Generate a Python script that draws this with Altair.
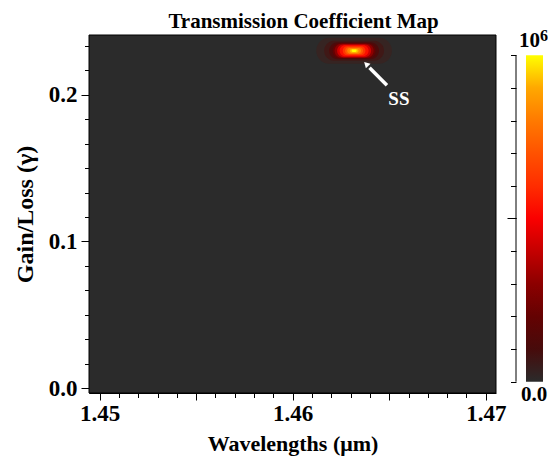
import altair as alt
import pandas as pd

FONT = "Liberation Serif"

# ---- axes ----
x_domain = [1.44945, 1.47053]
y_domain = [-0.0034, 0.2409]
x_major = [1.45, 1.455, 1.46, 1.465, 1.47]
x_minor = [1.450, 1.451, 1.452, 1.453, 1.454, 1.455, 1.456, 1.457, 1.458, 1.459,
           1.460, 1.461, 1.462, 1.463, 1.464, 1.465, 1.466, 1.467, 1.468, 1.469, 1.470]
y_major = [0.0, 0.1, 0.2]
y_minor = [0.0167, 0.0333, 0.05, 0.0667, 0.0833, 0.1167, 0.1333, 0.15, 0.1667,
           0.1833, 0.2167, 0.2333]

# ---- colour map (dark grey -> red -> yellow), 0 .. 1 (x 10^6) ----
cmap_stops = [0.0, 0.1, 0.2, 0.3, 0.4, 0.5, 0.6, 0.7, 0.8, 0.9, 1.0]
cmap_colors = ['#2b2b2b', '#470b0b', '#640202', '#8c0000', '#c40000', '#fa0000',
               '#ff2d00', '#ff5200', '#ff7a00', '#ffa800', '#ffff00']
cbar_ticks = [0.0, 0.1, 0.2, 0.3, 0.4, 0.5, 0.6, 0.7, 0.8, 0.9, 1.0]
cbar_bottom_label = '0.0'
cbar_top_base = '10'
cbar_top_exp = '6'

# ---- the bright spot (SS), as contour levels ----
spot_x = 1.46318
spot_y = 0.2301
spot_level = [0.03, 0.07, 0.12, 0.2, 0.3, 0.42, 0.52, 0.62, 0.72, 0.82, 0.92, 1.0]
spot_half_w = [0.00196, 0.00155, 0.00129, 0.00111, 0.00101, 0.00088, 0.00075,
               0.00059, 0.00047, 0.00036, 0.00023, 0.00013]
spot_half_h = [0.00886, 0.00682, 0.0058, 0.00511, 0.00477, 0.0043, 0.00375,
               0.00307, 0.00239, 0.00191, 0.0013, 0.00082]

# ---- arrow + label ----
arrow_tail = (1.46488, 0.20662)
arrow_base = (1.46398, 0.21862)
arrow_tip = (1.46370, 0.22251)
ss_pos = (1.46550, 0.19707)

bg_df = pd.DataFrame({'x0': [x_domain[0]], 'x1': [x_domain[1]],
                      'y0': [y_domain[0]], 'y1': [y_domain[1]]})
spot_df = pd.DataFrame({
    'v': spot_level,
    'x0': [spot_x - w for w in spot_half_w],
    'x1': [spot_x + w for w in spot_half_w],
    'y0': [spot_y - h for h in spot_half_h],
    'y1': [spot_y + h for h in spot_half_h],
})
shaft_df = pd.DataFrame({'x': [arrow_tail[0]], 'x2': [arrow_base[0]],
                         'y': [arrow_tail[1]], 'y2': [arrow_base[1]]})
tip_df = pd.DataFrame({'x': [arrow_tip[0]], 'y': [arrow_tip[1]]})
ss_df = pd.DataFrame({'x': [ss_pos[0]], 'y': [ss_pos[1]], 't': ['SS']})

xs = alt.Scale(domain=x_domain, nice=False, zero=False)
ys = alt.Scale(domain=y_domain, nice=False, zero=False)

lab = dict(labelFont=FONT, labelFontWeight='bold', labelFontSize=23, labelColor='black',
           titleFont=FONT, titleFontWeight='bold', titleColor='black',
           tickColor='black', domainColor='black', grid=False, labelOverlap=False,
           labelFlush=False)

x_axis_major = alt.Axis(values=x_major, tickSize=7, labelPadding=2, titlePadding=8,
                        orient='bottom', titleFontSize=22,
                        labelExpr="abs(datum.value*100 - round(datum.value*100)) < 1e-6 ? format(datum.value, '.2f') : ''",
                        title='Wavelengths (μm)', **lab)
y_axis_major = alt.Axis(values=y_major, tickSize=8, labelPadding=4, titlePadding=11,
                        orient='left', format='.1f', title='Gain/Loss (γ)',
                        titleFontSize=24, **lab)
x_axis_minor = alt.Axis(values=x_minor, tickSize=4.5, labels=False, domain=False,
                        orient='bottom', title=None, grid=False, tickColor='black')
y_axis_minor = alt.Axis(values=y_minor, tickSize=4.5, labels=False, domain=False,
                        orient='left', title=None, grid=False, tickColor='black')

cscale = alt.Scale(domain=cmap_stops, range=cmap_colors)

bg = alt.Chart(bg_df).mark_rect(fill='#2b2b2b', stroke='black', strokeWidth=1).encode(
    x=alt.X('x0:Q', scale=xs, axis=x_axis_major),
    x2='x1:Q',
    y=alt.Y('y0:Q', scale=ys, axis=y_axis_major),
    y2='y1:Q',
)

spot = alt.Chart(spot_df).mark_rect(cornerRadius=60).encode(
    x=alt.X('x0:Q', scale=xs, axis=None),
    x2='x1:Q',
    y=alt.Y('y0:Q', scale=ys, axis=None),
    y2='y1:Q',
    color=alt.Color('v:Q', scale=cscale, legend=None),
)

shaft = alt.Chart(shaft_df).mark_rule(color='white', strokeWidth=3.5).encode(
    x=alt.X('x:Q', scale=xs, axis=x_axis_minor),
    x2='x2:Q',
    y=alt.Y('y:Q', scale=ys, axis=y_axis_minor),
    y2='y2:Q',
)

head = alt.Chart(tip_df).mark_point(
    shape='M0,0 L-0.6,1.05 L0.6,1.05 Z', filled=True, color='white', opacity=1,
    size=120, angle=315, strokeWidth=0).encode(
    x=alt.X('x:Q', scale=xs, axis=None),
    y=alt.Y('y:Q', scale=ys, axis=None),
)

ss = alt.Chart(ss_df).mark_text(color='white', font=FONT, fontWeight='bold', fontSize=19,
                                align='center', baseline='middle').encode(
    x=alt.X('x:Q', scale=xs, axis=None),
    y=alt.Y('y:Q', scale=ys, axis=None),
    text='t:N',
)

main = alt.layer(bg, spot, shaft, head, ss).resolve_axis(x='independent', y='independent')

# ---- colour bar (own y scale, drawn right of the plot) ----
grad = alt.Gradient(gradient='linear', x1=0, x2=0, y1=1, y2=0,
                    stops=[alt.GradientStop(offset=s, color=c) for s, c in zip(cmap_stops, cmap_colors)])
cb_scale = alt.Scale(domain=[-0.0346, 1.0621], nice=False, zero=False)
cb_df = pd.DataFrame({'lo': [0.0], 'hi': [1.0]})
cb_bot_df = pd.DataFrame({'y': [0.0], 't': [cbar_bottom_label]})
cb_top_df = pd.DataFrame({'y': [1.0], 't': [cbar_top_base]})
cb_exp_df = pd.DataFrame({'y': [1.0], 't': [cbar_top_exp]})

cb_bar = alt.Chart(cb_df).mark_rect(color=grad).encode(
    x=alt.value(437), x2=alt.value(454),
    y=alt.Y('lo:Q', scale=cb_scale,
            axis=alt.Axis(values=cbar_ticks, labels=False, domain=False, tickSize=5.5,
                          orient='left', offset=-427, title=None, grid=False,
                          tickColor='black')),
    y2='hi:Q',
)
cb_line = alt.Chart(cb_df).mark_rule(color='black', strokeWidth=1).encode(
    x=alt.value(427),
    y=alt.Y('lo:Q', scale=cb_scale,
            axis=alt.Axis(values=[0.5], labels=False, domain=False, tickSize=9,
                          orient='left', offset=-427, title=None, grid=False,
                          tickColor='black')),
    y2='hi:Q',
)
cb_top = alt.Chart(cb_top_df).mark_text(
    font=FONT, fontWeight='bold', fontSize=21, baseline='alphabetic', align='right',
    dy=-8, color='black').encode(
    x=alt.value(451), y=alt.Y('y:Q', scale=cb_scale, axis=None), text='t:N')
cb_exp = alt.Chart(cb_exp_df).mark_text(
    font=FONT, fontWeight='bold', fontSize=16, baseline='alphabetic', align='left',
    dy=-14, color='black').encode(
    x=alt.value(451), y=alt.Y('y:Q', scale=cb_scale, axis=None), text='t:N')
cb_bot = alt.Chart(cb_bot_df).mark_text(
    font=FONT, fontWeight='bold', fontSize=21, baseline='top', align='center',
    dy=2, color='black').encode(
    x=alt.value(445), y=alt.Y('y:Q', scale=cb_scale, axis=None), text='t:N')

cbar = alt.layer(cb_bar, cb_line, cb_top, cb_exp, cb_bot).resolve_axis(y='independent')

chart = alt.layer(main, cbar).resolve_scale(y='independent').resolve_axis(
    x='independent', y='independent').properties(
    width=407, height=358,
    title=alt.TitleParams('Transmission Coefficient  Map', font=FONT, fontWeight='bold',
                          fontSize=21, color='black', anchor='middle', frame='group',
                          dx=11, offset=-3.5),
    padding={'left': 81, 'top': 27, 'right': 52, 'bottom': 63},
    autosize=alt.AutoSizeParams(type='none'),
).configure_view(stroke=None)

chart.save("out.html", embed_options={"renderer": "svg", "actions": False})
